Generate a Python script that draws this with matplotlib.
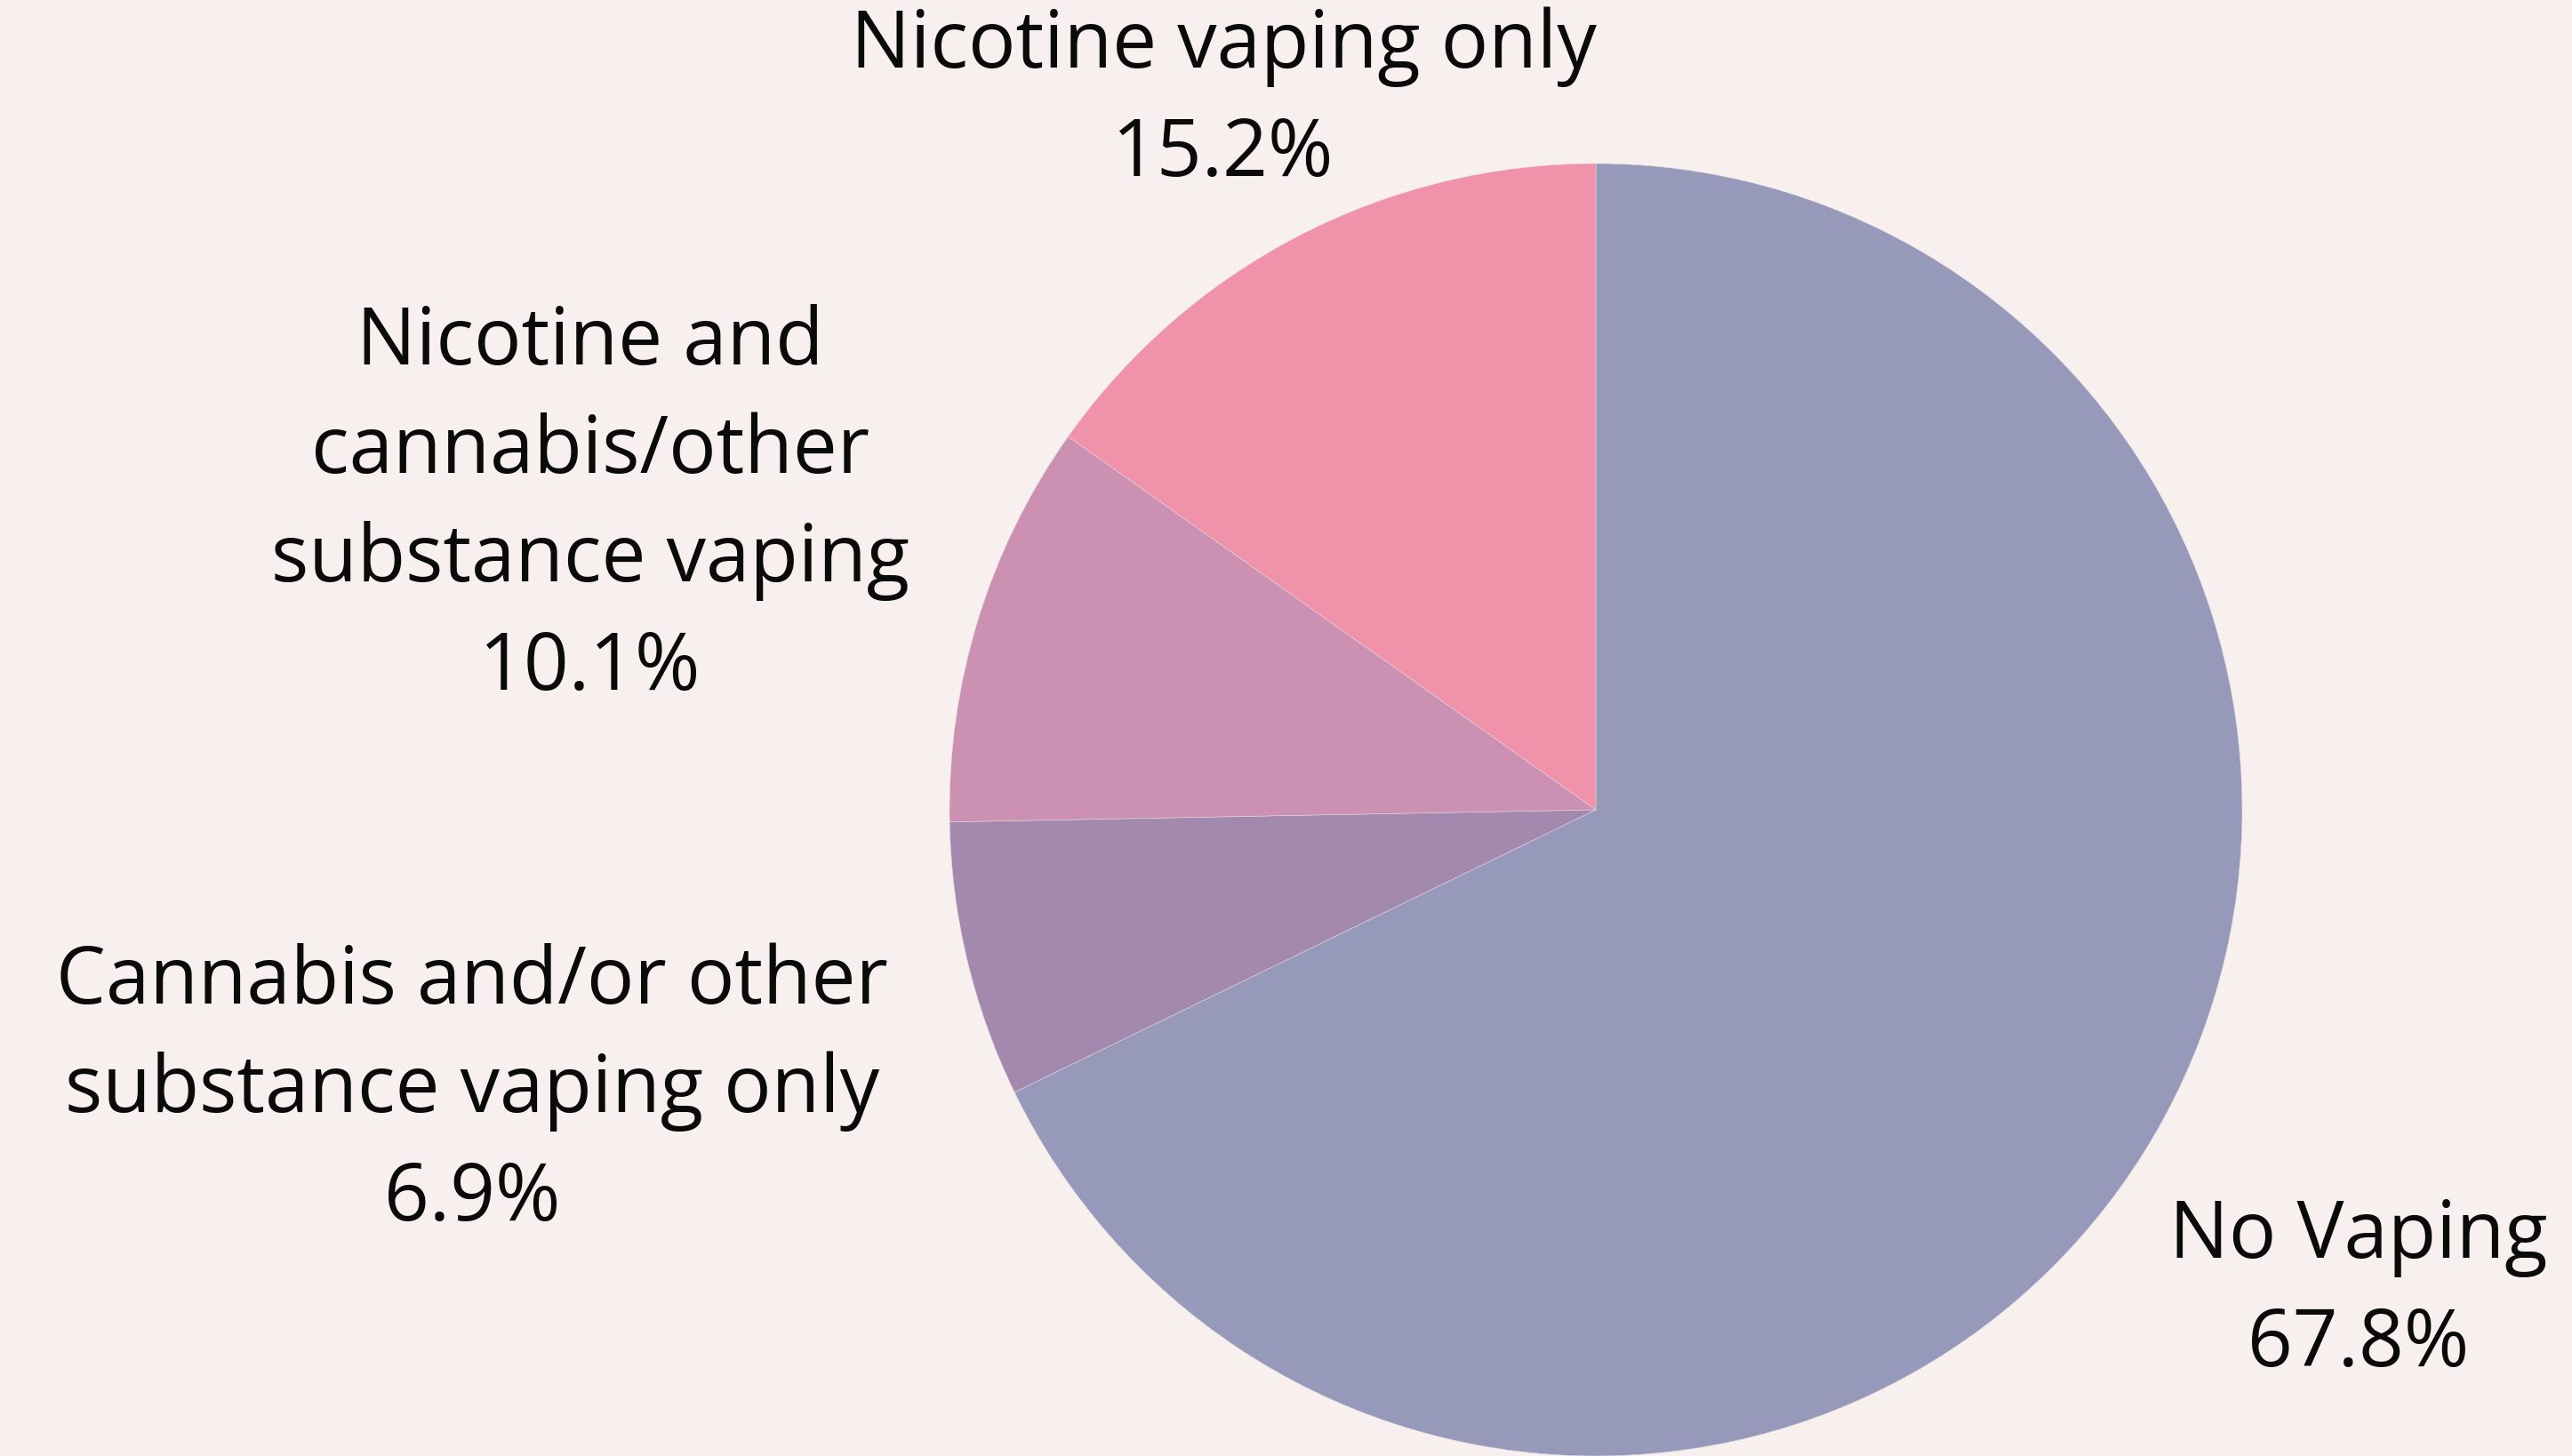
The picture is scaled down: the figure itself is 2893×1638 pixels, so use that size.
"""Vaping status pie chart."""

import matplotlib
matplotlib.use("Agg")
import matplotlib.pyplot as plt

# data
categories = ["No Vaping",
              "Cannabis and/or other\nsubstance vaping only",
              "Nicotine and\ncannabis/other\nsubstance vaping",
              "Nicotine vaping only"]
shares = [67.8, 6.9, 10.1, 15.2]
colors = ["#9699B9", "#A289AD", "#CB90B2", "#F092A9"]

BG = "#F8F0EE"
W, H = 2893, 1638
DPI = 100

# label anchors in pixels (x centre, y of first line from top)
label_pos = [(2653, 1392), (531, 1106), (664, 387), (1376, 53)]
LINE_PITCH = 122

plt.rcParams["font.family"] = ["Open Sans", "DejaVu Sans"]

fig = plt.figure(figsize=(W / DPI, H / DPI), dpi=DPI)
fig.patch.set_facecolor(BG)

cx, cy, r = 1795, 911, 727
ax = fig.add_axes([(cx - r) / W, (H - cy - r) / H, 2 * r / W, 2 * r / H])
ax.set_facecolor(BG)
ax.pie(shares, colors=colors, startangle=90, counterclock=False,
       wedgeprops=dict(edgecolor="#E2D6DE", linewidth=0.4))
ax.set_xlim(-1, 1)
ax.set_ylim(-1, 1)
ax.set_aspect("auto")
ax.axis("off")

for name, val, (x, y) in zip(categories, shares, label_pos):
    lines = name.split("\n") + [f"{val:.1f}%"]
    for i, line in enumerate(lines):
        fig.text(x / W, 1 - (y + i * LINE_PITCH) / H, line,
                 ha="center", va="center", fontsize=64, color="#0A0A0A")

fig.savefig("out.png", dpi=DPI, facecolor=BG)
plt.close(fig)
